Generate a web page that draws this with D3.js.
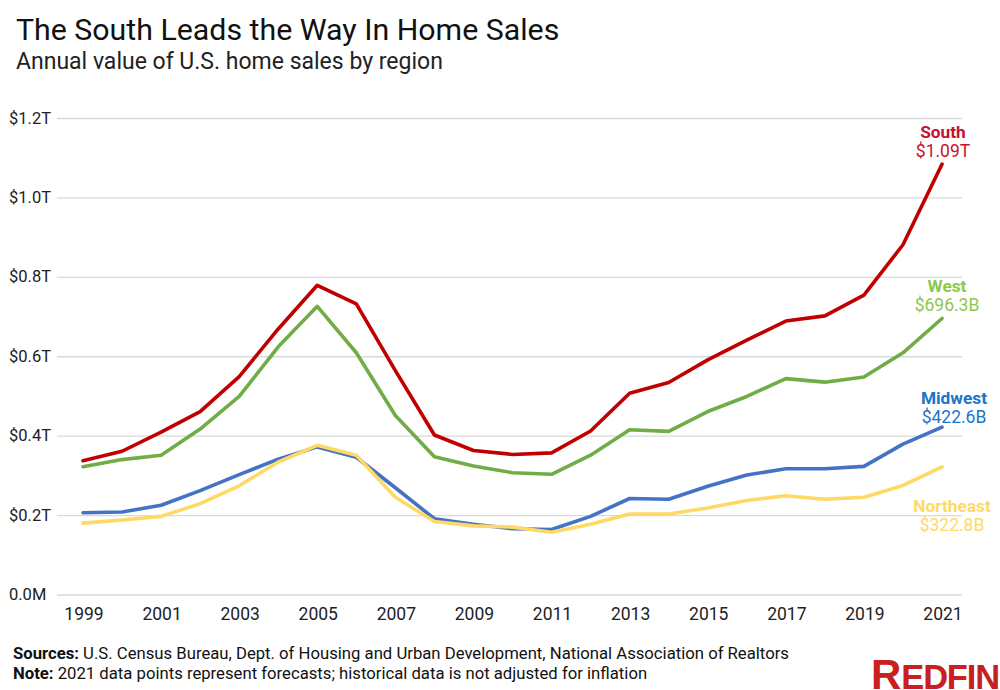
<!DOCTYPE html>
<html><head><meta charset="utf-8">
<script src="https://cdn.jsdelivr.net/npm/d3@7"></script>
<style>html,body{margin:0;padding:0;background:#fff}svg{display:block}text{font-family:Roboto,sans-serif}</style>
</head><body><svg id="c" width="1000" height="690"></svg>
<script>
const years=d3.range(1999,2022);
const south=[.338,.362,.41,.462,.55,.67,.78,.733,.565,.403,.364,.354,.358,.413,.508,.535,.592,.642,.69,.703,.755,.882,1.085];
const west=[.323,.341,.352,.418,.5,.625,.727,.61,.452,.348,.325,.308,.304,.352,.416,.412,.462,.5,.545,.536,.549,.61,.6963];
const midwest=[.207,.209,.226,.263,.303,.342,.373,.347,.27,.192,.178,.167,.165,.198,.243,.241,.274,.302,.318,.318,.324,.38,.4226];
const northeast=[.181,.189,.198,.23,.275,.335,.377,.352,.246,.185,.174,.171,.158,.178,.204,.204,.219,.238,.25,.241,.246,.276,.3228];
const yTicks=[0,.2,.4,.6,.8,1.0,1.2];
const yTickLabels=["0.0M","$0.2T","$0.4T","$0.6T","$0.8T","$1.0T","$1.2T"];
const series=[
 {name:"South",label:"$1.09T",values:south,line:"#c00000",text:"#c8102e",ty:138,vy:157,tx:943},
 {name:"West",label:"$696.3B",values:west,line:"#70ad47",text:"#8cc850",ty:292,vy:311,tx:947},
 {name:"Midwest",label:"$422.6B",values:midwest,line:"#4472c4",text:"#1a76c8",ty:404,vy:423,tx:954},
 {name:"Northeast",label:"$322.8B",values:northeast,line:"#ffd966",text:"#ffd966",ty:512,vy:531,tx:952}];
const svg=d3.select("#c");
const x=d3.scaleLinear().domain([1999,2021]).range([83,942]);
const y=d3.scaleLinear().domain([0,1.2]).range([595,118.5]);
svg.append("text").attr("x",16).attr("y",40).attr("font-size",30.3).attr("fill","#111").text("The South Leads the Way In Home Sales");
svg.append("text").attr("x",16).attr("y",69).attr("font-size",23).attr("fill","#222").text("Annual value of U.S. home sales by region");
svg.append("g").selectAll("line").data(yTicks).join("line")
 .attr("x1",57).attr("x2",962).attr("y1",d=>y(d)).attr("y2",d=>y(d)).attr("stroke","#d9d9d9").attr("stroke-width",1.4);
svg.append("g").selectAll("text").data(yTicks).join("text")
 .attr("x",9).attr("y",d=>y(d)+5).attr("font-size",16.5).attr("fill","#222").text((d,i)=>yTickLabels[i]);
svg.append("g").selectAll("text").data(years.filter(d=>(d-1999)%2==0)).join("text")
 .attr("x",d=>x(d)+1).attr("y",620).attr("text-anchor","middle").attr("font-size",17.5).attr("fill","#222").text(d=>d);
const line=d3.line().x((d,i)=>x(years[i])).y(d=>y(d));
svg.append("g").selectAll("path").data(series).join("path")
 .attr("d",d=>line(d.values)).attr("fill","none").attr("stroke",d=>d.line).attr("stroke-width",3.6)
 .attr("stroke-linecap","round").attr("stroke-linejoin","round");
const lab=svg.append("g").selectAll("g").data(series).join("g");
lab.append("text").attr("x",d=>d.tx).attr("y",d=>d.ty).attr("text-anchor","middle").attr("font-size",17.3).attr("font-weight",700).attr("fill",d=>d.text).text(d=>d.name);
lab.append("text").attr("x",d=>d.tx).attr("y",d=>d.vy).attr("text-anchor","middle").attr("font-size",17.5).attr("fill",d=>d.text).text(d=>d.label);
const s=svg.append("text").attr("x",13).attr("y",659).attr("font-size",16.7).attr("fill","#111");
s.append("tspan").attr("font-weight",700).text("Sources:");
s.append("tspan").text(" U.S. Census Bureau, Dept. of Housing and Urban Development, National Association of Realtors");
const n=svg.append("text").attr("x",13).attr("y",679).attr("font-size",16.7).attr("fill","#111");
n.append("tspan").attr("font-weight",700).text("Note:");
n.append("tspan").text(" 2021 data points represent forecasts; historical data is not adjusted for inflation");
const logo=svg.append("text").attr("x",871).attr("y",689).attr("fill","#c82021").attr("font-weight",700).style("font-family","'Liberation Sans Narrow',sans-serif");
logo.append("tspan").attr("font-size",42).text("R");
logo.append("tspan").attr("font-size",34.5).attr("letter-spacing",-1.2).text("EDFIN");
</script></body></html>
